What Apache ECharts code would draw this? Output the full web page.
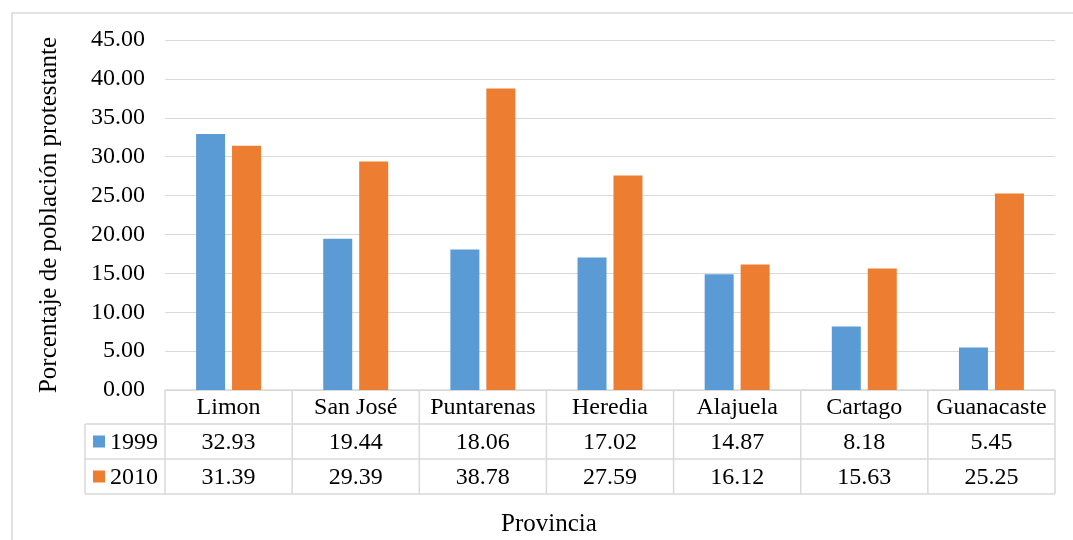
<!DOCTYPE html>
<html>
<head>
<meta charset="utf-8">
<script src="https://cdn.jsdelivr.net/npm/echarts@6/dist/echarts.min.js"></script>
<style>
  html, body { margin: 0; padding: 0; background: #fff; }
  #chart { width: 1073px; height: 540px; }
</style>
</head>
<body>
<div id="chart"></div>
<script>
// Protestant population share by province, 1999 vs 2010
const provinces = ['Limon', 'San José', 'Puntarenas', 'Heredia', 'Alajuela', 'Cartago', 'Guanacaste'];
const values1999 = [32.93, 19.44, 18.06, 17.02, 14.87, 8.18, 5.45];
const values2010 = [31.39, 29.39, 38.78, 27.59, 16.12, 15.63, 25.25];
const seriesNames = ['1999', '2010'];
const yTicks = { min: 0, max: 45, interval: 5 };

const FONT = '"Liberation Serif", "Times New Roman", serif';
const COLORS = ['#5B9BD5', '#ED7D31'];
const LINE = '#d9d9d9';

const chart = echarts.init(document.getElementById('chart'), null, { renderer: 'canvas' });

const option = {
  backgroundColor: '#fff',
  animation: false,
  grid: { left: 165, right: 18, top: 40, bottom: 150 },
  xAxis: {
    type: 'category',
    data: provinces,
    axisLine: { show: true, lineStyle: { color: LINE, width: 1 } },
    axisTick: { show: false },
    axisLabel: { show: false }
  },
  yAxis: {
    type: 'value',
    min: yTicks.min,
    max: yTicks.max,
    interval: yTicks.interval,
    axisLine: { show: false },
    axisTick: { show: false },
    splitLine: { lineStyle: { color: LINE, width: 1 } },
    axisLabel: {
      margin: 20,
      color: '#000',
      fontFamily: FONT,
      fontSize: 24,
      formatter: v => v.toFixed(2)
    }
  },
  series: [
    { name: seriesNames[0], type: 'bar', data: values1999, barWidth: 29, barGap: '24%', itemStyle: { color: COLORS[0] } },
    { name: seriesNames[1], type: 'bar', data: values2010, barWidth: 29, barGap: '24%', itemStyle: { color: COLORS[1] } }
  ]
};
chart.setOption(option);

// Data table under the plot, aligned to the category bands
function buildTable() {
  const g = [];
  const y0 = chart.convertToPixel({ yAxisIndex: 0 }, 0);
  const rows = [y0, y0 + 34, y0 + 69, y0 + 104];
  const first = chart.convertToPixel({ xAxisIndex: 0 }, provinces[0]);
  const second = chart.convertToPixel({ xAxisIndex: 0 }, provinces[1]);
  const band = second - first;
  const left = first - band / 2;
  const right = left + band * provinces.length;
  const legendLeft = 85;
  const text = (x, y, s, align, size) => ({
    type: 'text', x: x, y: y,
    style: { text: s, fill: '#000', font: (size || 24) + 'px ' + FONT, textAlign: align || 'center', textVerticalAlign: 'middle' }
  });
  const hline = (x1, x2, y) => ({ type: 'line', shape: { x1: x1, y1: y, x2: x2, y2: y }, style: { stroke: LINE, lineWidth: 1.5 } });
  const vline = (x, y1, y2) => ({ type: 'line', shape: { x1: x, y1: y1, x2: x, y2: y2 }, style: { stroke: LINE, lineWidth: 1.5 } });

  // outer chart border
  g.push({ type: 'rect', shape: { x: 12, y: 13, width: 1100, height: 600 }, style: { fill: 'none', stroke: LINE, lineWidth: 1.5 }, z: -1 });

  // horizontal rules
  g.push(hline(left, right, rows[0]));
  g.push(hline(legendLeft, right, rows[1]));
  g.push(hline(legendLeft, right, rows[2]));
  g.push(hline(legendLeft, right, rows[3]));
  // vertical rules
  g.push(vline(legendLeft, rows[1], rows[3]));
  for (let i = 0; i <= provinces.length; i++) {
    g.push(vline(left + band * i, rows[0], rows[3]));
  }
  // cells
  const seriesVals = [values1999, values2010];
  provinces.forEach((p, i) => {
    const cx = chart.convertToPixel({ xAxisIndex: 0 }, p);
    g.push(text(cx, (rows[0] + rows[1]) / 2 + 1, p));
    seriesVals.forEach((vals, r) => {
      g.push(text(cx, (rows[r + 1] + rows[r + 2]) / 2 + 1, vals[i].toFixed(2)));
    });
  });
  // legend keys in the first column
  seriesNames.forEach((name, r) => {
    const cy = (rows[r + 1] + rows[r + 2]) / 2;
    g.push({ type: 'rect', shape: { x: 93, y: cy - 6, width: 12, height: 12 }, style: { fill: COLORS[r] } });
    g.push(text(110, cy + 1, name, 'left'));
  });
  // axis titles
  g.push({
    type: 'text', x: 49, y: 215, rotation: Math.PI / 2,
    style: { text: 'Porcentaje de población protestante', fill: '#000', font: '25px ' + FONT, textAlign: 'center', textVerticalAlign: 'middle' }
  });
  g.push(text((left + right) / 2 - 61, 524, 'Provincia', 'center', 25));
  chart.setOption({ graphic: { elements: g } });
}
buildTable();
</script>
</body>
</html>
